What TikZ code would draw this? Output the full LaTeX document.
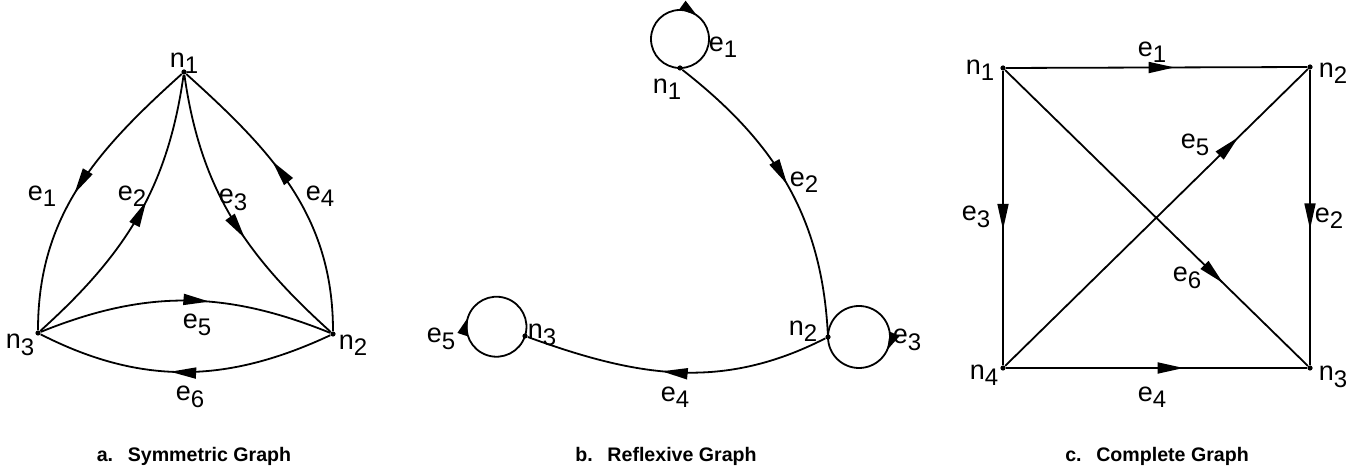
\documentclass[tikz,border=0pt]{standalone}
\usepackage{fontspec}
\setmainfont{Liberation Sans}
\usetikzlibrary{arrows.meta,decorations.markings}

\newcommand\glab[2]{#1\raisebox{-3.2pt}{\fontsize{12}{13}\selectfont #2}}

\tikzset{
 dot/.style={circle,fill,inner sep=0pt,minimum size=2.6pt},
 conn/.style={line width=0.9pt},
 midarrow/.style={postaction={decorate},decoration={markings,mark=at position #1 with {\arrow{Triangle[length=13pt,width=5.5pt]}}}},
 loopar/.style={postaction={decorate},decoration={markings,mark=at position #1 with {\arrow{Triangle[length=9pt,width=5pt]}}}},
 lab/.style={font=\fontsize{13.5}{15}\selectfont,inner sep=0pt},
 captxt/.style={font=\bfseries\fontsize{9.8}{11}\selectfont,inner sep=0pt,anchor=base}
}

\begin{document}
\begin{tikzpicture}[x=0.5pt,y=0.5pt]
\useasboundingbox (0,0) rectangle (1355,-469);

% ---------- a. Symmetric Graph ----------
\node[dot] (a1) at (184,-72) {};
\node[dot] (a2) at (333,-334) {};
\node[dot] (a3) at (38,-333) {};
\draw[conn,midarrow=0.53] (a1) to[out=222,in=90] (a3);   % e1
\draw[conn,midarrow=0.56] (a3) to[out=42,in=-98] (a1);   % e2
\draw[conn,midarrow=0.58] (a1) to[out=-82,in=138] (a2);  % e3
\draw[conn,midarrow=0.6]  (a2) to[out=90,in=-42] (a1);   % e4
\draw[conn,midarrow=0.58] (a3) to[out=22,in=158] (a2);   % e5
\draw[conn,midarrow=0.55] (a2) to[out=205,in=-27] (a3);  % e6
\node[lab] (la1) at (184,-63) {\glab{n}{1}};
\node[lab] (la2) at (353,-345) {\glab{n}{2}};
\node[lab] (la3) at (20,-345) {\glab{n}{3}};
\node[lab] (lae1) at (42,-196) {\glab{e}{1}};
\node[lab] (lae2) at (132,-196) {\glab{e}{2}};
\node[lab] (lae3) at (233,-200) {\glab{e}{3}};
\node[lab] (lae4) at (320,-196) {\glab{e}{4}};
\node[lab] (lae5) at (197,-325) {\glab{e}{5}};
\node[lab] (lae6) at (190,-397) {\glab{e}{6}};
\node[captxt] (capa) at (194,-462) {a.\hspace*{0.75em}Symmetric Graph};

% ---------- b. Reflexive Graph ----------
\node[dot] (b1) at (680,-68) {};
\node[dot] (b2) at (828,-337) {};
\node[dot] (b3) at (525,-336) {};
\draw[conn,midarrow=0.5]  (b1) to[out=-38,in=93] (b2);   % e2
\draw[conn,midarrow=0.55] (b2) to[out=207,in=-20] (b3);  % e4
\draw[conn,loopar=0.6]  (b1.center) arc[start angle=270,delta angle=-360,radius=29]; % e1
\draw[conn,loopar=0.57] (b2.center) arc[start angle=180,delta angle=-360,radius=31]; % e3
\draw[conn,loopar=0.5]  (b3.center) arc[start angle=-18,delta angle=-360,radius=30]; % e5
\node[lab] (lb1) at (667,-89) {\glab{n}{1}};
\node[lab] (lb2) at (803,-331) {\glab{n}{2}};
\node[lab] (lb3) at (542,-335) {\glab{n}{3}};
\node[lab] (lbe1) at (723,-47) {\glab{e}{1}};
\node[lab] (lbe2) at (804,-182) {\glab{e}{2}};
\node[lab] (lbe3) at (907,-340) {\glab{e}{3}};
\node[lab] (lbe4) at (675,-397) {\glab{e}{4}};
\node[lab] (lbe5) at (441,-339) {\glab{e}{5}};
\node[captxt] (capb) at (666,-462) {b.\hspace*{0.75em}Reflexive Graph};

% ---------- c. Complete Graph ----------
\node[dot] (c1) at (1003,-68) {};
\node[dot] (c2) at (1310,-67) {};
\node[dot] (c3) at (1310,-368) {};
\node[dot] (c4) at (1003,-368) {};
\draw[conn,midarrow=0.56]  (c1) -- (c2);  % e1
\draw[conn,midarrow=0.54]  (c2) -- (c3);  % e2
\draw[conn,midarrow=0.54]  (c1) -- (c4);  % e3
\draw[conn,midarrow=0.59]  (c4) -- (c3);  % e4
\draw[conn,midarrow=0.77]  (c4) -- (c2);  % e5
\draw[conn,midarrow=0.72]  (c1) -- (c3);  % e6
\node[lab] (lc1) at (980,-70) {\glab{n}{1}};
\node[lab] (lc2) at (1333,-73) {\glab{n}{2}};
\node[lab] (lc3) at (1333,-377) {\glab{n}{3}};
\node[lab] (lc4) at (984,-375) {\glab{n}{4}};
\node[lab] (lce1) at (1152,-52) {\glab{e}{1}};
\node[lab] (lce2) at (1329,-218) {\glab{e}{2}};
\node[lab] (lce3) at (976,-217) {\glab{e}{3}};
\node[lab] (lce4) at (1152,-397) {\glab{e}{4}};
\node[lab] (lce5) at (1195,-145) {\glab{e}{5}};
\node[lab] (lce6) at (1187,-278) {\glab{e}{6}};
\node[captxt] (capc) at (1157,-462) {c.\hspace*{0.75em}Complete Graph};
\end{tikzpicture}
\end{document}
